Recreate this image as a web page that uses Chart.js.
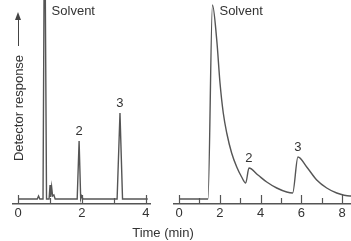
<!DOCTYPE html>
<html>
<head>
<meta charset="utf-8">
<script src="https://cdn.jsdelivr.net/npm/chart.js@4"></script>
<style>
  body { margin: 0; background: #fff; width: 351px; height: 241px; position: relative; overflow: hidden;
         font-family: "Liberation Sans", Arial, sans-serif; color: #333; }
  canvas { position: absolute; top: 0; }
  #leftWrap { position: absolute; left: 0; top: 0; width: 168px; height: 241px; }
  #rightWrap { position: absolute; left: 170px; top: 0; width: 181px; height: 241px; }
  .ylabel { position: absolute; left: 18px; top: 108px; font-size: 13px; white-space: nowrap;
            transform: translate(-50%, -50%) rotate(-90deg); }
  .arrow-line { position: absolute; left: 17.5px; top: 19px; width: 1.2px; height: 27px; background: #444; }
  .arrow-head { position: absolute; left: 15px; top: 12px; width: 0; height: 0;
                border-left: 3px solid transparent; border-right: 3px solid transparent; border-bottom: 8px solid #444; }
  .xlabel { position: absolute; left: 163px; top: 232px; font-size: 13px; transform: translate(-50%, -50%); white-space: nowrap; }
</style>
</head>
<body>
<div id="leftWrap"><canvas id="leftChart" width="168" height="241"></canvas></div>
<div id="rightWrap"><canvas id="rightChart" width="181" height="241"></canvas></div>
<div class="arrow-line"></div>
<div class="arrow-head"></div>
<div class="ylabel">Detector response</div>
<div class="xlabel">Time (min)</div>

<script>
// ==========================================
// DATA
// ==========================================
// left: fast run (0-4 min)
const leftTime   = [0, 0.60, 0.64, 0.68, 0.78, 0.83, 0.89, 0.97, 1.00, 1.02, 1.05, 1.08, 1.12, 1.16, 1.85, 1.91, 1.96, 1.99, 2.03, 3.10, 3.19, 3.27, 4.06];
const leftSignal = [0, 0,    3,    0,    0,    320,  0,    0,    14,   2,    12,   3,    4,    0,    0,    58,   0,    3,    0,    0,    86,   0,    0];
const leftTicks  = [0, 1, 2, 3, 4];
const leftPeakNames  = ['Solvent', '2', '3'];
const leftPeakTimes  = [0.83, 1.91, 3.19];
const leftPeakValues = [199, 58, 86];

// right: slow run (0-8 min)
const rightTime   = [0, 1.42, 1.64, 1.85, 2.01, 2.17, 2.34, 2.58, 2.83, 3.07, 3.27, 3.43, 3.87, 4.30, 4.79, 5.28, 5.57, 5.83, 6.26, 6.75, 7.24, 7.73, 8.38, 8.45];
const rightSignal = [0, 0,    194,  159,  116,  86,   66,   46,   32,   22,   16,   31,   24,   17,   11,   7,    6,    42,   32,   19,   11,   6,    3,    3];
const rightTicks  = [0, 1, 2, 3, 4, 5, 6, 7, 8];
const rightPeakNames  = ['Solvent', '2', '3'];
const rightPeakTimes  = [1.64, 3.43, 5.83];
const rightPeakValues = [194, 31, 42];

const LINE_COLOR = '#555';
const TEXT_COLOR = '#333';
const FONT = '"Liberation Sans", Arial, sans-serif';

// tick marks drawn upward from the axis, long on even minutes
const innerTicks = {
    id: 'innerTicks',
    afterDraw(chart) {
        const ctx = chart.ctx;
        const xs = chart.scales.x;
        const yAxis = chart.chartArea.bottom;
        ctx.save();
        ctx.strokeStyle = LINE_COLOR;
        ctx.lineWidth = 1.2;
        chart.options.plugins.innerTicks.values.forEach(v => {
            const px = Math.round(xs.getPixelForValue(v)) + 0.5;
            const len = v % 2 === 0 ? 9 : 6;
            ctx.beginPath();
            ctx.moveTo(px, yAxis);
            ctx.lineTo(px, yAxis - len);
            ctx.stroke();
        });
        ctx.restore();
    }
};

// peak names placed through the scales
const peakNames = {
    id: 'peakNames',
    afterDatasetsDraw(chart) {
        const o = chart.options.plugins.peakNames;
        const ctx = chart.ctx;
        const xs = chart.scales.x, ys = chart.scales.y;
        ctx.save();
        ctx.fillStyle = TEXT_COLOR;
        ctx.font = '13px ' + FONT;
        ctx.textBaseline = 'middle';
        o.names.forEach((name, i) => {
            const px = xs.getPixelForValue(o.times[i]);
            if (name === 'Solvent') {
                ctx.textAlign = 'left';
                ctx.fillText(name, px + 7, 11);
            } else {
                ctx.textAlign = 'center';
                ctx.fillText(name, px, ys.getPixelForValue(o.values[i]) - 10);
            }
        });
        ctx.restore();
    }
};

function buildChart(id, times, signal, ticks, names, pTimes, pValues, xMin, xMax, padLeft, padRight, smooth) {
    return new Chart(document.getElementById(id), {
        type: 'line',
        data: {
            datasets: [{
                data: times.map((t, i) => ({ x: t, y: signal[i] })),
                borderColor: LINE_COLOR,
                borderWidth: 1.4,
                pointRadius: 0,
                cubicInterpolationMode: smooth ? 'monotone' : 'default',
                tension: 0
            }]
        },
        options: {
            responsive: false,
            animation: false,
            events: [],
            layout: { padding: { left: padLeft, right: padRight, top: 0, bottom: 0 } },
            plugins: {
                legend: { display: false },
                tooltip: { enabled: false },
                innerTicks: { values: ticks },
                peakNames: { names: names, times: pTimes, values: pValues }
            },
            scales: {
                x: {
                    type: 'linear',
                    min: xMin,
                    max: xMax,
                    afterBuildTicks: scale => { scale.ticks = ticks.map(v => ({ value: v })); },
                    afterFit: scale => { scale.height = 37; },
                    grid: { display: true, drawOnChartArea: false, drawTicks: false },
                    border: { display: true, color: LINE_COLOR, width: 1.5 },
                    ticks: {
                        color: TEXT_COLOR,
                        font: { family: FONT, size: 13 },
                        padding: 2,
                        maxRotation: 0,
                        autoSkip: false,
                        callback: v => (v % 2 === 0 ? String(v) : '')
                    }
                },
                y: { display: false, min: -5, max: 199 }
            }
        },
        plugins: [innerTicks, peakNames]
    });
}

document.addEventListener('DOMContentLoaded', () => {
    buildChart('leftChart', leftTime, leftSignal, leftTicks, leftPeakNames, leftPeakTimes, leftPeakValues,
        -0.16, 4.13, 13, 18, false);
    buildChart('rightChart', rightTime, rightSignal, rightTicks, rightPeakNames, rightPeakTimes, rightPeakValues,
        -0.245, 8.43, 4, 0, true);
});
</script>
</body>
</html>
